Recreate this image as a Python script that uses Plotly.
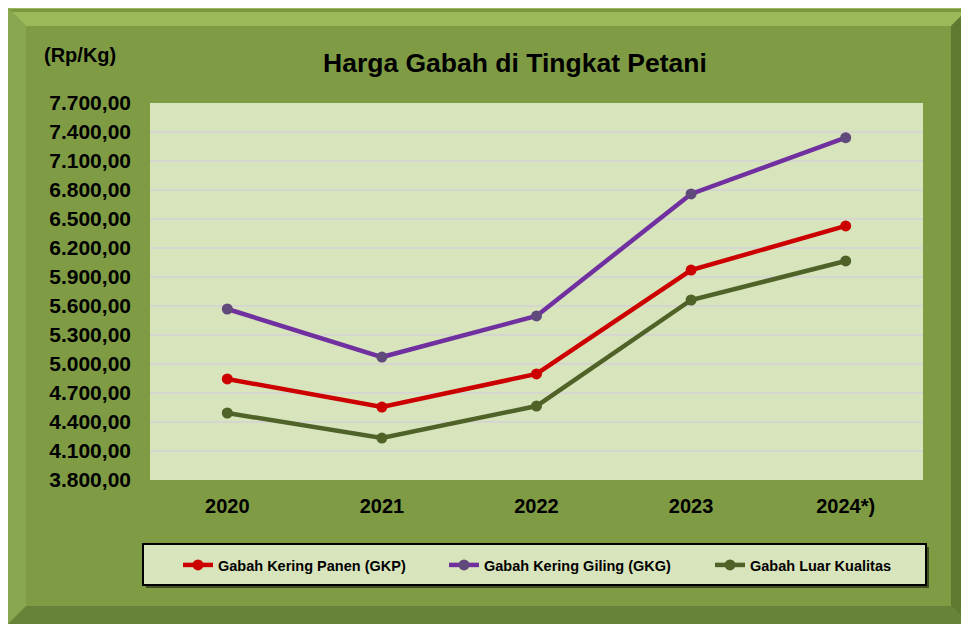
import plotly.graph_objects as go

years = ["2020", "2021", "2022", "2023", "2024*)"]
gkp = [4845, 4555, 4897, 5972, 6428]
gkg = [5569, 5072, 5497, 6759, 7341]
glk = [4493, 4234, 4565, 5662, 6066]
series_names = ["Gabah Kering Panen (GKP)", "Gabah Kering Giling (GKG)", "Gabah Luar Kualitas"]

OFF = 8  # page body margin
W, H = 969 - OFF, 624 - OFF
# plot area in page pixels
L, R, T, B = 150, 923, 103, 480
FONT = "Liberation Sans, Arial, sans-serif"


def px(x):
    return (x - L) / (R - L)


def py(y):
    return (B - y) / (B - T)


def poly(pts):
    return "M" + " L".join(f"{px(a):.5f},{py(b):.5f}" for a, b in pts) + " Z"


fig = go.Figure()
specs = [
    (gkp, "#cc0000", "#cc0000", "legend"),
    (gkg, "#7030a0", "#604a7b", "legend2"),
    (glk, "#4f6228", "#4f6228", "legend3"),
]
for (vals, lc, mc, lg), name in zip(specs, series_names):
    fig.add_trace(go.Scatter(
        x=years, y=vals, name=name, mode="lines+markers",
        line=dict(color=lc, width=4.5),
        marker=dict(color=mc, size=11),
        legend=lg,
    ))

shapes = []
o1, ox2, oy2, bw = 8, 969, 624, 18


def add_poly(pts, color):
    shapes.append(dict(type="path", xref="paper", yref="paper", layer="below",
                       path=poly(pts), fillcolor=color, line=dict(width=0)))


# bevel edges
add_poly([(o1, o1), (ox2, o1), (ox2 - bw, o1 + bw), (o1 + bw, o1 + bw)], "#9bb95b")
add_poly([(o1, o1 + 1), (ox2, o1 + 1), (ox2, o1 + 4), (o1, o1 + 4)], "#7a9840")
add_poly([(o1, o1), (o1 + bw, o1 + bw), (o1 + bw, oy2 - bw), (o1, oy2)], "#89a74e")
add_poly([(ox2, o1), (ox2, oy2), (ox2 - bw, oy2 - bw), (ox2 - bw, o1 + bw)], "#5f7931")
add_poly([(o1, oy2), (ox2, oy2), (ox2 - bw, oy2 - bw), (o1 + bw, oy2 - bw)], "#67833a")
# plot area
shapes.append(dict(type="rect", xref="paper", yref="paper", x0=0, x1=1, y0=0, y1=1,
                   fillcolor="#d8e4bc", line=dict(width=0), layer="below"))
# legend box shadow + box
shapes.append(dict(type="rect", xref="paper", yref="paper", x0=px(146), x1=px(929), y0=py(588), y1=py(547),
                   fillcolor="#3f4f22", line=dict(width=0), layer="below"))
shapes.append(dict(type="rect", xref="paper", yref="paper", x0=px(143), x1=px(926), y0=py(585), y1=py(544),
                   fillcolor="#d8e4bc", line=dict(width=2, color="#000000"), layer="below"))

leg_common = dict(orientation="h", bgcolor="rgba(0,0,0,0)", xanchor="left", yanchor="middle",
                  y=py(565), font=dict(family=FONT, size=14.5, color="#000000", weight="bold"),
                  itemwidth=30)

fig.update_layout(
    width=W, height=H,
    margin=dict(l=L - OFF, r=969 - R, t=T - OFF, b=624 - B, pad=0),
    paper_bgcolor="#7f9c45",
    plot_bgcolor="rgba(0,0,0,0)",
    separators=",.",
    shapes=shapes,
    showlegend=True,
    legend=dict(x=px(178), **leg_common),
    legend2=dict(x=px(444), **leg_common),
    legend3=dict(x=px(710), **leg_common),
    xaxis=dict(
        type="category", range=[-0.5, len(years) - 0.5],
        showgrid=False, zeroline=False, showline=False, ticks="",
        tickfont=dict(family=FONT, size=20, color="#000000", weight="bold"),
        ticklabelstandoff=12,
    ),
    yaxis=dict(
        range=[3800, 7700], dtick=300, tick0=3800, tickformat=",.2f",
        showgrid=True, gridcolor="#d6d6d0", gridwidth=2, zeroline=False, showline=False, ticks="",
        tickfont=dict(family=FONT, size=21, color="#000000", weight="bold"),
        ticklabelstandoff=18,
    ),
    annotations=[
        dict(text="<b>Harga Gabah di Tingkat Petani</b>", xref="paper", yref="paper",
             x=px(515), y=py(63), xanchor="center", yanchor="middle", showarrow=False,
             font=dict(family=FONT, size=26.5, color="#000000")),
        dict(text="<b>(Rp/Kg)</b>", xref="paper", yref="paper",
             x=px(80), y=py(55), xanchor="center", yanchor="middle", showarrow=False,
             font=dict(family=FONT, size=20, color="#000000")),
    ],
)

fig.write_html("out.html")
